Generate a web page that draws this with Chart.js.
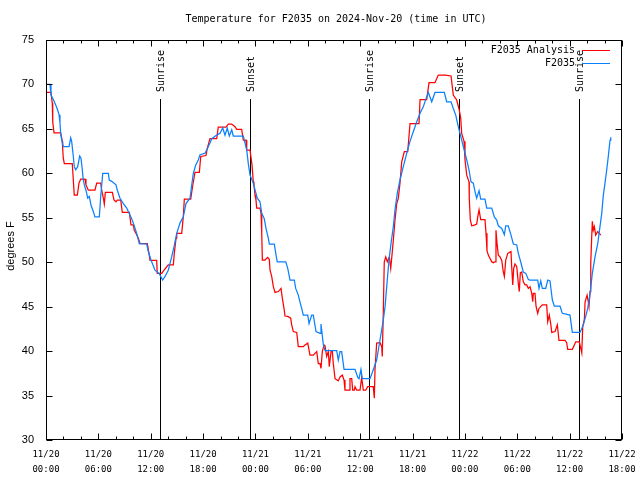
<!DOCTYPE html>
<html>
<head>
<meta charset="utf-8">
<script src="https://cdn.jsdelivr.net/npm/chart.js@4.4.0/dist/chart.umd.min.js"></script>
<style>
  html, body { margin: 0; padding: 0; background: #fff; }
  canvas { display: block; }
</style>
</head>
<body>
<canvas id="chart1" width="640" height="480"></canvas>
<script>
// time axis = hours since 2024-11-20 00:00 UTC
const analysisHours = [
    0.00, 0.57, 0.72, 0.77, 0.92, 1.68, 1.87, 1.91, 1.98, 2.10, 3.01, 3.13, 3.24, 3.59, 3.78, 3.98,
    4.47, 4.58, 4.85, 5.61, 5.81, 6.27, 6.38, 6.57, 6.68, 6.80, 7.60, 7.79, 8.02, 8.17, 8.56, 8.74,
    9.55, 9.74, 10.00, 10.12, 10.31, 10.58, 10.77, 11.61, 11.80, 11.92, 12.68, 12.75, 13.26, 13.44,
    14.01, 14.59, 14.70, 14.90, 14.98, 15.55, 15.73, 15.85, 16.58, 16.81, 17.07, 17.57, 17.73, 18.33,
    18.48, 18.79, 19.56, 19.74, 20.63, 20.89, 21.28, 21.66, 21.85, 22.42, 22.61, 22.92, 23.00, 23.38,
    23.61, 23.75, 23.83, 23.95, 24.06, 24.14, 24.52, 24.64, 24.72, 24.79, 25.09, 25.40, 25.59, 25.67,
    25.86, 26.05, 26.24, 26.62, 26.93, 27.08, 27.27, 27.39, 27.70, 28.04, 28.15, 28.34, 28.73, 28.91,
    29.48, 29.68, 29.99, 30.25, 30.63, 30.82, 31.02, 31.20, 31.40, 31.51, 31.66, 31.86, 31.97, 32.16,
    32.35, 32.46, 32.66, 32.81, 32.92, 33.12, 33.49, 33.69, 33.95, 34.15, 34.26, 34.72, 34.83, 35.03,
    35.14, 35.33, 35.41, 35.60, 35.98, 36.17, 36.36, 36.63, 36.86, 37.50, 37.62, 37.70, 37.89, 38.27,
    38.47, 38.53, 38.65, 38.76, 38.93, 39.11, 39.34, 39.50, 39.61, 39.80, 39.99, 40.19, 40.37, 40.56,
    40.76, 41.06, 41.45, 41.71, 42.74, 42.86, 43.62, 43.89, 44.57, 44.95, 45.72, 46.41, 46.67, 47.06,
    47.36, 47.52, 47.63, 47.90, 48.01, 48.21, 48.47, 48.50, 48.62, 48.78, 49.16, 49.35, 49.47, 49.62,
    49.81, 50.30, 50.42, 50.53, 50.68, 51.07, 51.26, 51.45, 51.56, 51.68, 51.83, 52.02, 52.22, 52.40,
    52.52, 52.68, 52.91, 53.28, 53.36, 53.48, 53.59, 53.74, 53.94, 54.12, 54.23, 54.35, 54.51, 54.69,
    54.89, 55.08, 55.27, 55.46, 55.66, 55.77, 55.84, 56.03, 56.15, 56.34, 56.49, 56.87, 57.37, 57.49,
    57.67, 57.83, 57.95, 58.33, 58.59, 58.78, 59.47, 59.66, 59.78, 60.31, 60.54, 60.70, 61.11, 61.23,
    61.39, 61.50, 61.69, 61.77, 62.00, 62.14, 62.22, 62.34, 62.42, 62.53, 62.60, 62.71, 62.83, 62.99,
    63.22, 63.40, 63.56
];
const analysisTemps = [
    69.1, 69.1, 67.9, 65.8, 64.55, 64.55, 63.6, 62.8, 61.7, 61.1, 61.1, 59.25, 57.55, 57.55, 58.9, 59.35,
    59.35, 58.7, 58.1, 58.1, 58.9, 58.9, 58.1, 57.2, 56.55, 57.85, 57.85, 57.0, 56.8, 57.0, 57.0, 55.6,
    55.6, 54.2, 54.2, 53.6, 53.25, 52.7, 52.1, 52.1, 51.0, 50.2, 50.2, 48.75, 48.75, 49.0,
    49.7, 49.7, 51.0, 52.7, 53.25, 53.25, 55.1, 57.1, 57.1, 58.6, 60.1, 60.1, 61.9, 62.0,
    62.8, 63.9, 63.9, 65.2, 65.2, 65.55, 65.55, 65.25, 64.95, 64.95, 63.75, 63.75, 62.6, 62.6,
    60.9, 59.05, 58.7, 57.55, 57.0, 56.1, 56.1, 55.5, 53.25, 50.25, 50.25, 50.55, 50.3, 49.1,
    48.4, 47.25, 46.6, 46.7, 47.05, 45.95, 44.8, 43.95, 43.9, 43.7, 42.95, 42.2, 42.1, 40.5,
    40.5, 40.7, 40.9, 39.55, 39.55, 39.75, 39.95, 38.6, 38.6, 38.05, 39.95, 40.7, 40.6, 39.4,
    39.95, 38.25, 39.95, 39.95, 38.6, 36.9, 36.65, 37.1, 37.3, 36.75, 35.6, 35.6, 36.9, 36.9,
    35.6, 35.6, 36.0, 35.6, 35.6, 37.05, 35.6, 35.6, 36.0, 36.0, 34.7, 37.95, 40.9, 40.95,
    40.5, 39.4, 44.4, 50.05, 50.6, 50.05, 50.6, 49.3, 50.45, 52.5, 54.75, 56.6, 57.2, 58.9,
    61.3, 62.45, 62.45, 65.6, 65.6, 68.3, 68.3, 70.2, 70.2, 71.05, 71.05, 70.95, 68.8, 68.25,
    67.1, 66.2, 64.5, 63.6, 61.5, 59.8, 59.05, 57.2, 54.75, 54.1, 54.2, 54.3, 55.1, 55.9,
    54.8, 54.8, 53.25, 51.3, 50.8, 50.05, 49.95, 50.05, 53.6, 52.1, 50.8, 50.6, 50.2, 48.9,
    48.4, 50.25, 51.0, 51.2, 49.5, 47.45, 49.3, 49.8, 49.5, 47.6, 46.7, 48.8, 48.9, 47.8,
    47.45, 47.45, 47.05, 47.25, 46.5, 45.55, 46.5, 46.5, 45.05, 44.25, 44.8, 45.2, 45.2, 43.3,
    44.05, 43.1, 42.1, 42.2, 42.95, 41.2, 41.2, 40.95, 40.2, 40.2, 40.7, 41.05, 41.05, 40.5,
    39.8, 42.75, 43.6, 45.55, 46.3, 45.55, 45.0, 46.7, 49.85, 52.9, 54.6, 53.6, 54.0, 53.05,
    53.45, 53.25, 53.05
];
const obsHours = [
    0.00, 0.46, 0.57, 0.84, 1.11, 1.34, 1.49, 1.60, 1.68, 1.80, 1.98, 2.64, 2.83, 2.94, 3.13, 3.24,
    3.40, 3.63, 3.86, 4.01, 4.16, 4.27, 4.39, 4.58, 4.78, 4.96, 5.16, 5.42, 5.61, 6.11, 6.27, 6.50,
    7.14, 7.25, 7.53, 8.02, 8.17, 8.48, 8.86, 9.25, 9.43, 9.82, 10.08, 10.39, 10.69, 11.54, 11.72, 12.03,
    12.49, 12.98, 13.37, 13.64, 14.01, 14.40, 14.67, 14.98, 15.35, 15.73, 16.04, 16.50, 16.70, 16.88,
    17.15, 17.45, 17.65, 18.22, 18.60, 18.99, 19.56, 19.94, 20.25, 20.51, 20.77, 21.00, 21.28, 21.46,
    22.61, 23.00, 23.18, 23.38, 23.75, 24.06, 24.21, 24.52, 24.72, 25.01, 25.21, 25.47, 25.59, 26.16,
    26.36, 26.50, 27.47, 27.70, 27.96, 28.45, 28.61, 28.91, 29.10, 29.30, 29.48, 29.99, 30.14, 30.45,
    30.63, 30.94, 31.40, 31.51, 31.78, 31.97, 33.31, 33.49, 33.69, 33.88, 34.15, 35.41, 35.72, 35.87,
    36.09, 36.24, 37.13, 37.50, 37.89, 38.27, 38.65, 38.85, 39.04, 39.30, 39.53, 39.80, 39.99, 40.25,
    40.56, 40.94, 41.33, 41.71, 42.09, 42.48, 42.86, 43.23, 43.62, 43.81, 44.20, 44.57, 45.64, 45.91,
    46.41, 46.67, 46.95, 47.24, 47.63, 47.93, 48.21, 48.47, 48.70, 48.96, 49.16, 49.35, 49.62, 49.81,
    50.30, 50.50, 51.07, 51.37, 51.64, 51.83, 52.22, 52.52, 52.68, 52.97, 53.28, 53.55, 53.94, 54.12,
    54.39, 54.69, 54.97, 55.27, 55.46, 56.34, 56.49, 56.69, 56.87, 57.26, 57.49, 57.75, 58.02, 58.25,
    58.90, 59.16, 60.04, 60.31, 61.19, 61.57, 61.84, 62.07, 62.34, 62.60, 62.91, 63.22, 63.40, 63.68,
    63.86, 64.05, 64.25, 64.43, 64.63, 64.71
];
const obsTemps = [
    70.0, 70.0, 68.8, 68.3, 67.7, 67.1, 66.6, 65.7, 64.5, 63.75, 63.0, 63.0, 64.0, 63.6, 61.9, 60.75,
    60.4, 60.75, 61.95, 61.7, 60.4, 59.25, 58.7, 58.1, 57.2, 57.4, 56.4, 55.7, 55.1, 55.1, 57.4, 60.0,
    60.0, 59.25, 59.1, 58.7, 58.1, 57.2, 56.6, 56.1, 55.7, 54.9, 54.2, 53.25, 52.1, 52.05, 51.2, 50.25,
    49.1, 48.7, 48.0, 48.4, 49.1, 50.6, 51.75, 53.25, 54.4, 55.1, 56.6, 57.2, 58.7, 60.0,
    60.9, 61.5, 62.1, 62.25, 63.0, 63.9, 64.3, 64.5, 65.1, 64.3, 65.1, 64.2, 64.9, 64.2,
    64.2, 62.6, 61.1, 59.8, 58.9, 57.75, 57.2, 56.8, 55.5, 54.9, 53.8, 52.7, 52.05, 52.05,
    50.8, 50.05, 50.05, 49.3, 48.0, 48.0, 47.05, 46.3, 45.55, 44.8, 44.05, 44.05, 43.1, 44.05,
    44.05, 42.2, 42.0, 43.05, 40.7, 40.05, 40.05, 39.0, 39.95, 39.95, 37.95, 37.95, 37.05, 36.9,
    37.95, 36.9, 36.9, 37.9, 39.0, 41.25, 43.5, 45.0, 47.25, 50.25, 52.1, 54.0, 55.9, 57.75,
    59.25, 60.75, 62.25, 63.6, 64.7, 65.8, 66.75, 67.5, 68.6, 69.1, 68.05, 69.1, 69.1, 68.05,
    68.05, 67.3, 66.55, 65.25, 63.75, 62.6, 61.5, 60.4, 59.05, 58.9, 57.95, 57.2, 58.05, 57.1,
    57.1, 56.1, 56.1, 55.1, 54.75, 54.1, 53.8, 53.1, 54.1, 54.1, 53.05, 52.05, 51.95, 51.0,
    50.05, 48.9, 48.75, 48.05, 48.0, 48.0, 47.05, 47.9, 47.05, 47.05, 48.0, 47.9, 45.75, 45.05,
    45.05, 44.25, 44.05, 42.1, 42.1, 42.95, 43.9, 44.8, 46.5, 48.75, 50.6, 52.1, 53.45, 55.5,
    57.55, 58.9, 60.4, 61.9, 63.75, 64.05
];
const sunEvents = ['Sunrise', 'Sunset', 'Sunrise', 'Sunset', 'Sunrise'];
const sunHours = [13.10, 23.41, 37.05, 47.36, 61.11];
const seriesNames = ['F2035 Analysis', 'F2035'];
const seriesColors = ['#ff0000', '#0a80ff'];
const chartTitle = 'Temperature for F2035 on 2024-Nov-20 (time in UTC)';
const yTitle = 'degrees F';

const MONO = '"DejaVu Sans Mono", monospace';
const SANS = '"Liberation Sans", Arial, sans-serif';

function pad2(n) {
    return (n < 10 ? '0' : '') + n;
}

// 11/20 00:00 style two-line labels
function timeLabel(h) {
    const day = 20 + Math.floor(h / 24);
    return ['11/' + day, pad2(h % 24) + ':00'];
}

function toPoints(xs, ys) {
    return xs.map((x, i) => ({ x: x, y: ys[i] }));
}

// gnuplot look: box border, inward ticks, sun lines, legend inside the plot
const gnuplotDecor = {
    id: 'gnuplotDecor',
    beforeDatasetsDraw(chart) {
        const { ctx, chartArea: a, scales: { x } } = chart;
        ctx.save();
        ctx.strokeStyle = '#000';
        ctx.fillStyle = '#000';
        ctx.lineWidth = 1;
        ctx.font = '10px ' + MONO;
        sunHours.forEach((h, i) => {
            const px = Math.round(x.getPixelForValue(h)) + 0.5;
            ctx.beginPath();
            ctx.moveTo(px, a.top + 59);
            ctx.lineTo(px, a.bottom);
            ctx.stroke();
            ctx.save();
            ctx.translate(px + 1, a.top + 52);
            ctx.rotate(-Math.PI / 2);
            ctx.textAlign = 'left';
            ctx.textBaseline = 'middle';
            ctx.fillText(sunEvents[i], 0, 0);
            ctx.restore();
        });
        ctx.restore();
    },
    afterDraw(chart) {
        const { ctx, chartArea: a, scales: { x, y } } = chart;
        const L = Math.round(a.left) + 0.5, R = Math.round(a.right) - 0.5;
        const T = Math.round(a.top) + 0.5, B = Math.round(a.bottom) - 0.5;
        ctx.save();
        ctx.strokeStyle = '#000';
        ctx.fillStyle = '#000';
        ctx.lineWidth = 1;
        ctx.strokeRect(L, T, R - L, B - T);

        ctx.beginPath();
        for (let h = 0; h <= 66; h += 2) {
            const px = Math.round(x.getPixelForValue(h)) + 0.5;
            const len = h % 6 === 0 ? 6 : 3;
            ctx.moveTo(px, B); ctx.lineTo(px, B - len);
            ctx.moveTo(px, T); ctx.lineTo(px, T + len);
        }
        for (let v = 30; v <= 75; v += 5) {
            const py = Math.round(y.getPixelForValue(v)) + 0.5;
            ctx.moveTo(L, py); ctx.lineTo(L + 6, py);
            ctx.moveTo(R, py); ctx.lineTo(R - 6, py);
        }
        ctx.stroke();

        // legend, top right
        ctx.font = '10px ' + MONO;
        ctx.textAlign = 'right';
        ctx.textBaseline = 'middle';
        seriesNames.forEach((name, i) => {
            const ly = a.top + 10 + i * 13;
            ctx.fillText(name, a.right - 47, ly);
            ctx.strokeStyle = seriesColors[i];
            ctx.beginPath();
            ctx.moveTo(a.right - 40, Math.round(ly) + 0.5);
            ctx.lineTo(a.right - 12, Math.round(ly) + 0.5);
            ctx.stroke();
        });

        // title
        ctx.fillStyle = '#000';
        ctx.textAlign = 'center';
        ctx.fillText(chartTitle, (a.left + a.right) / 2 + 2, 19);

        // y axis title
        ctx.font = '11px ' + SANS;
        ctx.save();
        ctx.translate(11, (a.top + a.bottom) / 2 + 6);
        ctx.rotate(-Math.PI / 2);
        ctx.fillText(yTitle, 0, 0);
        ctx.restore();
        ctx.restore();
    }
};

const ctx1 = document.getElementById('chart1').getContext('2d');

var chart1 = new Chart(ctx1, {
    type: 'line',
    data: {
        datasets: [{
                label: seriesNames[0],
                data: toPoints(analysisHours, analysisTemps),
                borderColor: seriesColors[0],
                borderWidth: 1.25,
                pointRadius: 0,
                tension: 0,
                order: 2,
            },
            {
                label: seriesNames[1],
                data: toPoints(obsHours, obsTemps),
                borderColor: seriesColors[1],
                borderWidth: 1.25,
                pointRadius: 0,
                tension: 0,
                order: 1,
            },
        ],
    },
    options: {
        responsive: false,
        animation: false,
        devicePixelRatio: 1,
        layout: {
            padding: { top: 40, right: 18, left: 0, bottom: 0 }
        },
        plugins: {
            legend: { display: false },
            tooltip: { enabled: false },
            title: { display: false },
        },
        scales: {
            x: {
                type: 'linear',
                min: 0,
                max: 66,
                grid: { display: false },
                border: { display: false },
                afterFit(scale) { scale.height = 40; },
                ticks: {
                    stepSize: 6,
                    autoSkip: false,
                    maxRotation: 0,
                    padding: -1,
                    color: '#000',
                    font: { family: MONO, size: 9, lineHeight: 1.667 },
                    callback: (v) => timeLabel(v),
                },
            },
            y: {
                min: 30,
                max: 75,
                grid: { display: false },
                border: { display: false },
                afterFit(scale) { scale.width = 46; },
                ticks: {
                    stepSize: 5,
                    padding: 4,
                    color: '#000',
                    font: { family: SANS, size: 11 },
                },
            },
        },
    },
    plugins: [gnuplotDecor],
});
</script>
</body>
</html>
